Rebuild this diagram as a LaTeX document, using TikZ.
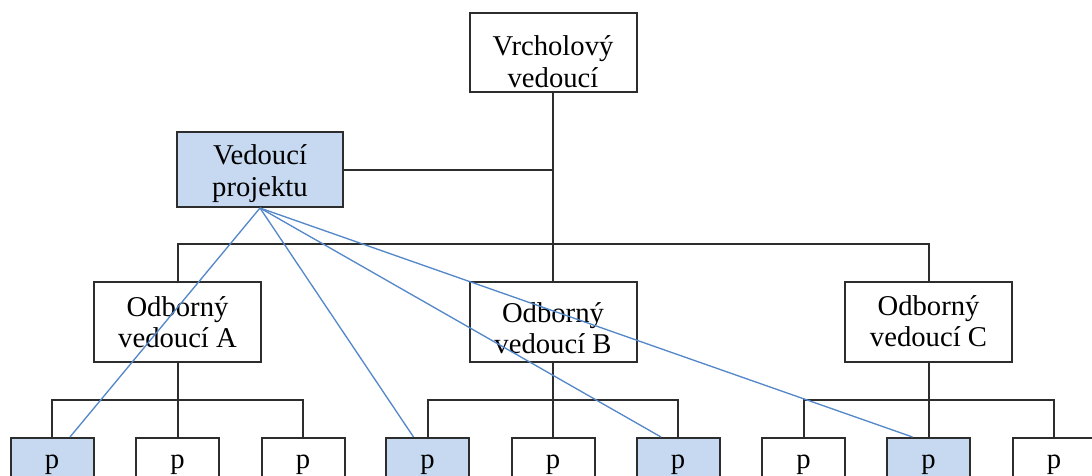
\documentclass[tikz,border=0pt]{standalone}
\usepackage{fontspec}
\setmainfont{Liberation Serif}
\usetikzlibrary{calc}
\definecolor{edgecol}{RGB}{45,45,45}
\definecolor{boxfill}{RGB}{198,217,241}
\definecolor{linkblue}{RGB}{84,136,200}
\begin{document}
\begin{tikzpicture}[x=0.75pt,y=-0.75pt,
  orgbox/.style={draw=edgecol, line width=1.5pt, fill=white, inner sep=0pt,
    minimum width=125.25pt, minimum height=60pt},
  projbox/.style={orgbox, fill=boxfill, minimum width=124.5pt, minimum height=56.25pt},
  boxtext/.style={inner sep=0pt, align=center, font=\fontsize{21.5}{23.6}\selectfont},
  leaf/.style={draw=edgecol, line width=1.5pt, fill=white, inner sep=0pt,
    font=\fontsize{21.5}{23.6}\selectfont, minimum width=62.25pt, minimum height=40.5pt},
  leafhi/.style={leaf, fill=boxfill},
  tree/.style={draw=edgecol, line width=1.5pt},
  link/.style={draw=linkblue, line width=1pt}]
\useasboundingbox (0,0) rectangle (1092,475);
\clip (0,0) rectangle (1092,475);

% top level
\node[orgbox, minimum height=59.25pt] (top) at (553,52.5) {};
\node[boxtext] (top-t) at ($(top)+(0,9)$) {Vrcholový\\vedoucí};
\node[projbox] (pm) at (260,169.5) {};
\node[boxtext] (pm-t) at ($(pm)+(0,4)$) {Vedoucí\\projektu};

% specialist managers
\node[orgbox] (ma) at (177.5,322) {};
\node[boxtext] (ma-t) at ($(ma)+(0,0)$) {Odborný\\vedoucí A};
\node[orgbox] (mb) at (553,322) {};
\node[boxtext] (mb-t) at ($(mb)+(0,6)$) {Odborný\\vedoucí B};
\node[orgbox] (mc) at (928.5,322) {};
\node[boxtext] (mc-t) at ($(mc)+(0,-1)$) {Odborný\\vedoucí C};

% workers
\node[leafhi] (p1) at (52,465) {p};
\node[leaf]   (p2) at (177.5,465) {p};
\node[leaf]   (p3) at (303,465) {p};
\node[leafhi] (p4) at (427.5,465) {p};
\node[leaf]   (p5) at (553,465) {p};
\node[leafhi] (p6) at (678,465) {p};
\node[leaf]   (p7) at (803.5,465) {p};
\node[leafhi] (p8) at (928.5,465) {p};
\node[leaf]   (p9) at (1054,465) {p};

% line structure
\draw[tree] (top.south) -- (mb.north);
\draw[tree] (pm.east) -- (pm.east -| top.south);
\draw[tree] (ma.north) -- ++(0,-37) -| (mc.north);
\draw[tree] (ma.south) -- (p2.north);
\draw[tree] (mb.south) -- (p5.north);
\draw[tree] (mc.south) -- (p8.north);
\draw[tree] (p1.north) -- ++(0,-37) -| (p3.north);
\draw[tree] (p4.north) -- ++(0,-37) -| (p6.north);
\draw[tree] (p7.north) -- ++(0,-37) -| (p9.north);

% project links
\draw[link] (pm.south) -- ($(p1.north)+(18,0)$);
\draw[link] (pm.south) -- ($(p4.north)+(-14,0)$);
\draw[link] (pm.south) -- ($(p6.north)+(-17,0)$);
\draw[link] (pm.south) -- ($(p8.north)+(-16,0)$);
\end{tikzpicture}
\end{document}
